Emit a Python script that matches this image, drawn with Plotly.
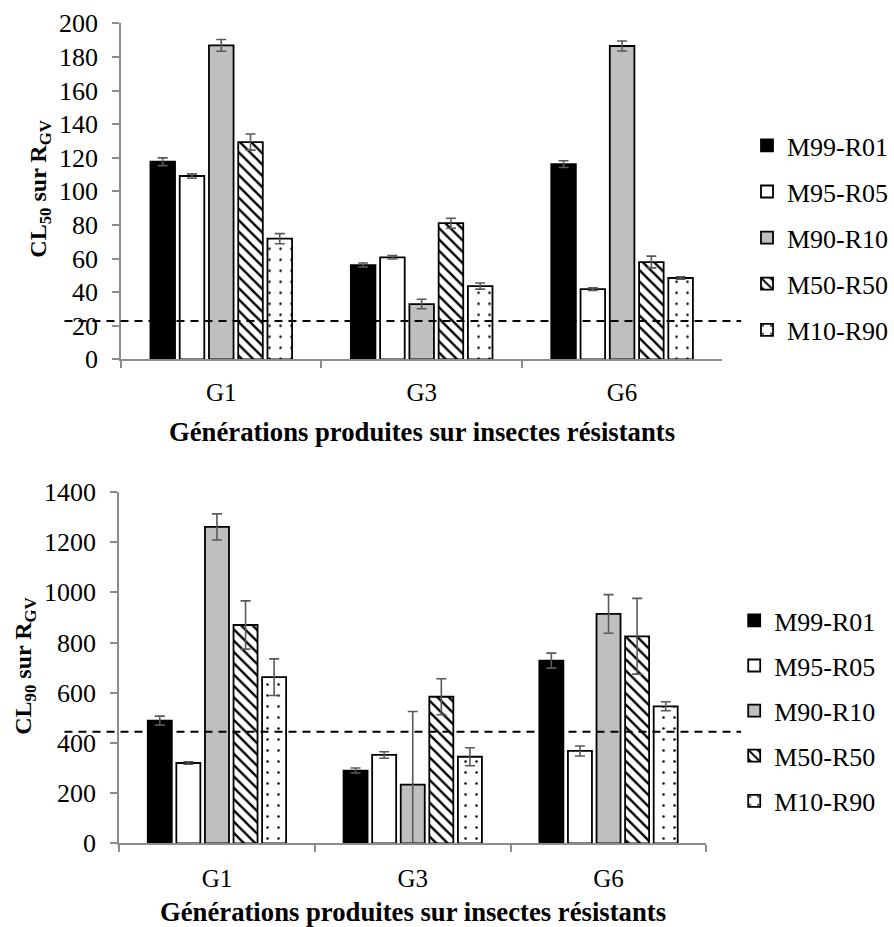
import plotly.graph_objects as go

W, H = 894, 927

generations = ["G1", "G3", "G6"]
series = ["M99-R01", "M95-R05", "M90-R10", "M50-R50", "M10-R90"]

# CL50 values (top chart) and error bars
cl50 = {
    "M99-R01": [117.6, 56.1, 116.2],
    "M95-R05": [109.1, 60.7, 41.8],
    "M90-R10": [186.9, 32.9, 186.5],
    "M50-R50": [129.3, 81.0, 57.9],
    "M10-R90": [71.8, 43.6, 48.4],
}
cl50_err = {
    "M99-R01": [2.3, 1.2, 2.0],
    "M95-R05": [1.3, 1.0, 0.8],
    "M90-R10": [3.5, 2.8, 3.0],
    "M50-R50": [4.8, 3.0, 3.5],
    "M10-R90": [3.0, 1.8, 0.7],
}

# CL90 values (bottom chart) and error bars
cl90 = {
    "M99-R01": [489, 290, 728],
    "M95-R05": [320, 352, 368],
    "M90-R10": [1261, 234, 914],
    "M50-R50": [870, 584, 825],
    "M10-R90": [662, 345, 546],
}
cl90_err = {
    "M99-R01": [18, 10, 30],
    "M95-R05": [5, 13, 20],
    "M90-R10": [52, 291, 77],
    "M50-R50": [96, 72, 151],
    "M10-R90": [73, 36, 18],
}

ref_cl50 = 22.8
ref_cl90 = 445

styles = {
    "M99-R01": dict(color="#000000"),
    "M95-R05": dict(color="#ffffff"),
    "M90-R10": dict(color="#bfbfbf"),
    "M50-R50": dict(color="#ffffff", pattern=dict(shape="\\", fgcolor="#000000", bgcolor="#ffffff",
                                                   size=8, solidity=0.3, fillmode="replace")),
    "M10-R90": dict(color="#ffffff", pattern=dict(shape=".", fgcolor="#000000", bgcolor="#ffffff",
                                                   size=11, solidity=0.04, fillmode="replace")),
}

FONT = "Liberation Serif"
fig = go.Figure()

for i, name in enumerate(series):
    for vals, errs, xa, ya, leg in [(cl50, cl50_err, "x", "y", "legend"),
                                     (cl90, cl90_err, "x2", "y2", "legend2")]:
        minus = [min(e, v) for e, v in zip(errs[name], vals[name])]
        fig.add_trace(go.Bar(
            x=generations, y=vals[name], name=name,
            xaxis=xa, yaxis=ya, legend=leg, legendgroup=leg + name,
            marker=dict(line=dict(color="#000000", width=1.8), **styles[name]),
            error_y=dict(type="data", array=errs[name], arrayminus=minus,
                         color="#595959", thickness=1.6, width=5),
        ))

axis_common = dict(
    showline=True, linecolor="#8c8c8c", linewidth=1.5,
    ticks="outside", tickcolor="#8c8c8c", ticklen=7, tickwidth=1.5,
    showgrid=False, zeroline=False, automargin=False,
)
yfont = dict(family=FONT, size=26, color="#000000")
xfont = dict(family=FONT, size=25, color="#000000")

fig.update_layout(
    width=W, height=H,
    margin=dict(l=0, r=0, t=0, b=0),
    paper_bgcolor="white", plot_bgcolor="white",
    barmode="group", bargap=0.27, bargroupgap=0.16,
    font=dict(family=FONT, color="#000000"),
    xaxis=dict(domain=[122 / W, 728 / W], anchor="y", tickson="boundaries",
               tickfont=xfont, ticklabelstandoff=10, **axis_common),
    yaxis=dict(domain=[1 - 359.3 / H, 1 - 23.3 / H], anchor="x", range=[0, 200], dtick=20,
               tickfont=yfont, ticklabelstandoff=9, **axis_common),
    xaxis2=dict(domain=[120 / W, 712 / W], anchor="y2", tickson="boundaries",
                tickfont=xfont, ticklabelstandoff=12, **axis_common),
    yaxis2=dict(domain=[1 - 843.3 / H, 1 - 492 / H], anchor="x2", range=[0, 1400], dtick=200,
                tickfont=yfont, ticklabelstandoff=9, **axis_common),
    legend=dict(x=753 / W, y=1 - 122 / H, xanchor="left", yanchor="top",
                font=dict(family=FONT, size=26), tracegroupgap=9.3,
                bgcolor="rgba(0,0,0,0)", itemclick=False),
    legend2=dict(x=740 / W, y=1 - 597 / H, xanchor="left", yanchor="top",
                 font=dict(family=FONT, size=26), tracegroupgap=8.3,
                 bgcolor="rgba(0,0,0,0)", itemclick=False),
    showlegend=True,
)

# dashed reference lines
for yref, val in [("y", ref_cl50), ("y2", ref_cl90)]:
    fig.add_shape(type="line", xref="paper", yref=yref, x0=65 / W, x1=747 / W, y0=val, y1=val,
                  line=dict(color="#000000", width=2, dash="8px,6px"), layer="above")

# axis titles
xtitle = "<b>Générations produites sur insectes résistants</b>"
for cx, cy in [(425, 432), (416, 912)]:
    fig.add_annotation(x=cx / W, y=1 - cy / H, xref="paper", yref="paper", text=xtitle,
                       xanchor="center", yanchor="middle",
                       showarrow=False, font=dict(family=FONT, size=26.7))
for cx, cy, lab in [(40, 189, "50"), (25, 666, "90")]:
    fig.add_annotation(x=cx / W, y=1 - cy / H, xref="paper", yref="paper", textangle=-90,
                       xanchor="center", yanchor="middle",
                       text=f"<b>CL<sub>{lab}</sub> sur R<sub>GV</sub></b>",
                       showarrow=False, font=dict(family=FONT, size=24))

fig.write_html("out.html", config={"displayModeBar": False},
               post_script="document.body.style.margin='0px';")
